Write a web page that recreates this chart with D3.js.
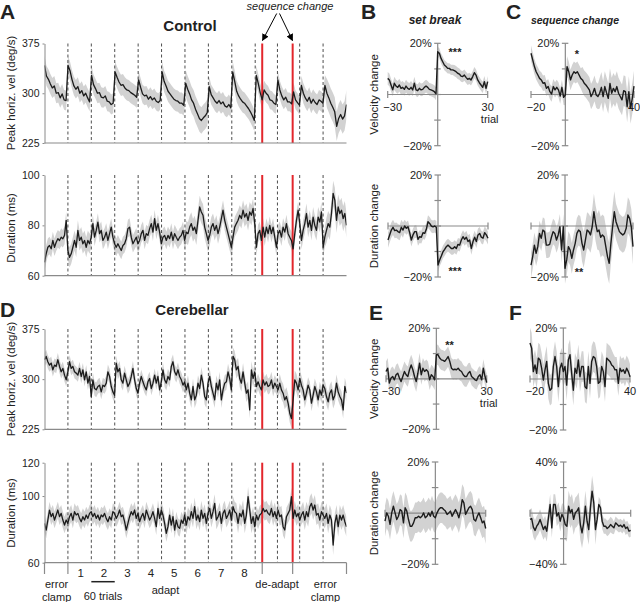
<!DOCTYPE html>
<html><head><meta charset="utf-8">
<script src="https://cdn.jsdelivr.net/npm/d3@7"></script>
<style>
body{margin:0;background:#fff}
svg{display:block}
text{font-family:"Liberation Sans",Arial,sans-serif;fill:#222}
</style>
</head><body>
<svg id="c" width="640" height="602"></svg>
<script>
// ---------------- DATA ----------------
const T_MAX = 774; // trials in full session
const blockBreaks = [60,120,180,240,300,360,420,480,540,597,654,714];
const seqChanges = [558,636];
const blockNumbers = ["1","2","3","4","5","6","7","8"];
const velTicks = [225,300,375];
const ctrlDurTicks = [60,80,100];
const cereDurTicks = [60,100,120];

// Control: peak horizontal velocity (deg/s)
const ctrlVel = [342,326,321,314,308,311,300,301,293,299,290,289,
342,334,321,311,306,310,300,304,296,300,293,287,
327,313,307,300,301,294,293,296,288,287,283,285,
332,324,317,312,313,308,305,304,301,299,297,294,
320,309,299,296,297,291,295,290,293,288,286,289,
332,318,311,303,299,295,291,289,288,285,285,282,
315,306,299,290,285,276,269,262,259,263,266,271,
310,298,293,288,285,289,284,287,281,279,283,278,
332,318,303,296,291,287,285,281,277,272,266,259,
327,315,301,290,305,300,297,290,289,285,283,
320,305,296,290,294,287,287,284,302,290,286,282,
312,300,293,288,294,285,291,286,283,290,288,285,
312,300,293,285,279,272,250,262,268,261,266,283];
const ctrlVelSem = [15,14,15,16,14,16,20,15,16,14,14,15,22];

// Control: duration (ms)
const ctrlDur = [65.3,68.7,71.3,72,70.7,74,71.3,73.3,74.7,74,75.3,74.7,76,82,70,67.3,68.7,71.3,74,71.3,78,74,75.3,72.7,74,71.3,74,72.7,75.3,80.7,75.3,78,81.3,76.7,78,74,75.3,77.3,74,76.7,79.3,75.3,72.7,71.3,72.7,71.3,70,72,72.7,74.7,78.7,79.3,75.3,72.7,74,75.3,72.7,74,76.7,78,74,76.7,76,78.7,80.7,77.3,82.7,78,80.7,77.3,72.7,75.3,76,74,76,74.7,77.3,74,76.7,75.3,74,75.3,76,78,74,77.3,76.7,79.3,80.7,78,79.3,76.7,82,87.3,85.3,84,79.3,76.7,74,76,79.3,80.7,78,80,76.7,79.3,82.7,86,82,79.3,76.7,74,71.3,75.3,79.3,80.7,82,84,82.7,86,83.3,84.7,82,85.3,84,86.7,80.7,71.3,76.7,78,74,79.3,75.3,79.3,76.7,80,76.7,79.3,75.3,71.3,76.7,78,75.3,79.3,77.3,80.7,76.7,75.3,74,70.7,76.7,82,86,80.7,74,78,80.7,84.7,79.3,82,78,83.3,80,78,83.3,81.3,85.3,71.3,75.3,78,80.7,79.3,84.7,92.7,90,82,87.3,84.7,86,82.7,84.7,80];
const ctrlDurSem = [3.5,4,3.5,3.5,3.5,3.5,4.5,4,4,3.5,3.5,4,5];

// Cerebellar: peak horizontal velocity (deg/s)
const cereVel = [329,334,326,321,324,314,321,319,329,319,311,316,306,299,311,326,316,319,311,309,306,316,304,314,299,311,294,304,274,299,286,284,289,291,281,291,289,294,311,304,289,281,276,324,311,316,299,294,309,299,289,294,304,316,299,286,279,294,304,296,289,284,296,301,286,294,306,294,304,284,296,314,299,294,304,299,319,326,311,306,314,304,299,291,296,284,294,279,269,289,269,276,294,286,306,294,274,269,294,304,289,279,269,294,284,299,269,284,294,296,311,301,284,334,329,314,319,301,294,311,294,279,284,254,314,301,311,289,296,289,284,299,291,296,289,291,299,286,294,289,284,294,284,279,269,274,264,249,241,269,299,294,284,301,291,284,269,279,291,284,264,276,289,281,269,284,276,291,286,274,266,279,284,269,276,294,281,274,269,254,289,279];
const cereVelSem = [10,10,11,11,10,11,12,12,13,12,14,12,13];

// Cerebellar: duration (ms)
const cereDur = [83.6,79.6,85.6,91.6,87.6,89.6,85.6,88.6,91.6,87.6,89.6,85.6,82.6,85.6,83.6,87.6,89.6,85.6,90.6,88.6,89.6,86.6,84.6,87.6,85.6,88.6,86.6,89.6,90.6,87.6,89.6,86.6,88.6,85.6,88.6,87.6,89.6,86.6,84.6,87.6,85.6,90.6,89.6,86.6,88.6,91.6,87.6,88.6,84.6,79.6,83.6,87.6,90.6,88.6,91.6,86.6,89.6,84.6,87.6,89.6,85.6,91.6,88.6,85.6,87.6,90.6,86.6,81.6,92.6,86.6,91.6,88.6,83.6,77.6,81.6,88.6,82.6,87.6,79.6,85.6,81.6,80.6,85.6,83.6,88.6,82.6,87.6,85.6,90.6,86.6,93.6,85.6,88.6,84.6,91.6,86.6,89.6,83.6,89.6,92.6,86.6,90.6,95.6,85.6,87.6,90.6,83.6,89.6,91.6,86.6,88.6,91.6,85.6,93.6,90.6,89.6,83.6,89.6,87.6,91.6,83.6,88.6,99.6,91.6,83.6,87.6,81.6,88.6,85.6,88.6,89.6,92.6,90.6,91.6,89.6,88.6,92.6,87.6,90.6,86.6,91.6,87.6,88.6,81.6,79.6,87.6,89.6,91.6,99.6,86.6,91.6,87.6,89.6,85.6,88.6,90.6,85.6,90.6,87.6,93.6,95.6,91.6,94.6,88.6,89.6,85.6,90.6,88.6,86.6,89.6,83.6,88.6,85.6,70.6,83.6,88.6,81.6,88.6,85.6,88.6,84.6,81.6];
const cereDurSem = [5,5,5,5,5,5,5.5,5.5,6,5.5,5.5,6,6];

// Event-aligned changes (%), set break: trials -30..30; sequence change: trials -20..40
const ctrlBreakVel = [6.3,5.7,3.7,1.8,4.4,3.3,2.8,3.7,2.4,2.8,2.0,3.3,2.4,2.0,2.8,1.8,4.4,1.8,1.5,2.4,1.8,2.0,2.8,3.3,2.8,2.0,1.8,1.5,1.1,0.3,
16.7,16.1,14.1,12.8,11.5,10.9,10.2,10.2,9.6,9.6,9.3,8.9,8.3,8.0,7.2,7.0,7.6,6.7,5.9,6.3,5.7,7.0,8.5,7.6,5.7,4.6,3.7,2.8,5.0,2.4,5.0];
const ctrlBreakVelSem = [2.5,2.5,2.5,2,2.2,2.2];
const ctrlBreakDur = [-5.5,-3.5,-1.6,-0.5,-1.8,-1.6,-2.2,-2.6,-0.5,-1.6,0,-0.9,-0.3,-2.6,-5.5,-3.5,-2.2,-2.2,-5.2,-4.2,-4.4,-2.6,-2.9,-1.3,1.7,1.0,0,-0.3,0,-0.5,
-15.3,-13.3,-11.8,-10.1,-9.2,-8.1,-7.5,-8.1,-8.8,-8.8,-8.1,-8.8,-7.2,-7.5,-5.5,-4.2,-5.2,-4.4,-6.1,-5.5,-8.8,-6.1,-4.4,-6.1,-3.5,-2.9,-4.4,-4.8,-2.6,-3.5,-4.8];
const ctrlBreakDurSem = [3,2.5,2.5,2.5,2.5,2.5];
const ctrlSeqVel = [16.1,13.5,10.9,8.9,7.6,6.3,5.7,4.4,4.6,2.4,3.1,1.1,0.2,3.1,1.8,2.8,1.8,-0.6,2.8,-1.1,
-0.2,10.9,8.9,5.7,7.6,8.9,8.3,8.9,7.6,6.3,5.7,4.4,3.7,2.8,1.8,-0.8,0.5,2.4,-0.2,-0.8,0.5,2.8,-0.8,3.1,0.7,-1.5,4.3,0.5,2.4,1.1,3.1,0.5,-0.8,-2.1,1.5,1.1,-4.8,1.1,-5.4,-1.5,3.3];
const ctrlSeqVelSem = [3,3,4,5,6,6];
const ctrlSeqDur = [-15.3,-12,-7.5,-10.7,-8.1,-2.9,-4.8,-1.6,-2.2,-7.5,-7.5,-7.2,-4.4,-2.2,-2.9,-5.5,-3.5,-0.3,-9.4,-0.3,
-16.6,-13.3,-8.1,-9.4,-12.7,-9.4,-6.8,-2.9,-1.6,-2.2,-6.8,-9.4,-5.5,-1.6,-2.2,-3.5,-0.3,5.6,1.0,-2.2,-1.6,-4.4,-3.5,-4.2,-8.1,-12,-14.6,-6.8,-0.3,5.6,1.7,-0.3,-2.2,-2.9,-3.5,-2.9,-0.9,4.3,3.0,-0.3,-8.1];
const ctrlSeqDurSem = [5,5,6,7,8,7];
const cereBreakVel = [2.9,4.2,-1.7,0.3,0.9,-0.4,1.6,2.2,0.3,-1.1,0.9,2.9,1.6,0.9,3.6,5.5,3.6,0.9,-1.1,2.2,6.2,1.6,4.2,2.9,3.6,2.9,-0.4,1.6,0.9,-0.4,
9.5,9.5,8.2,7.5,7.3,6.9,7.8,8.8,6.9,4.2,3.6,3.8,3.6,4.2,3.3,2.9,1.6,0.9,0.9,2.2,2.9,0.9,0.3,-0.4,-0.7,0.9,1.6,-0.4,4.2,0.9,-1.5];
const cereBreakVelSem = [4,4,4,4,4,3.5];
const cereBreakDur = [-3.1,0.1,-1.2,-4.4,0.1,2.7,0.1,-2.5,-1.2,1.4,0.8,-3.8,2.1,0.8,-2.5,-5.1,-5.1,-3.8,-1.8,-1.8,-1.2,-1.8,-1.2,0.1,-1.8,-1.2,0.1,-1.2,0.8,-1.2,
-1.8,0.1,1.4,2.1,2.1,1.4,0.8,-0.5,0.1,0.8,-1.2,0.1,1.4,0.1,-1.8,0.8,5.3,4.0,-0.5,0.8,2.1,2.7,1.4,-2.5,-3.1,-1.2,0.1,-1.8,-3.8,-3.1,-6.0];
const cereBreakDurSem = [6,6,6,6,6,6];
const cereSeqVel = [14.1,12.1,2.9,5.5,2.2,8.2,7.5,4.2,-0.4,3.6,6.9,-1.7,-4.4,-3.7,4.9,8.8,4.9,-3.0,4.2,6.2,
2.9,4.9,-2.4,7.5,9.5,2.2,-4.4,4.2,2.2,7.5,0.9,4.9,4.9,-3.0,-3.7,4.9,-1.7,6.9,8.8,8.2,4.9,-1.7,-1.1,4.9,2.9,-3.0,8.2,7.5,6.9,5.5,4.9,3.6,3.6,-1.7,4.2,2.9,3.6,2.2,4.2,2.9,0.9];
const cereSeqVelSem = [6,6,6,6,6,5];
const cereSeqDur = [-4.9,-4.2,-10.9,-13.5,-10.2,-8.3,-4.9,-8.9,-12.8,-10.2,-14.1,-3.6,6.8,-11.5,6.8,6.8,-2.3,0.3,-6.3,-1.0,
-3.6,-8.9,-10.2,5.5,0.3,2.9,-4.9,0.3,1.6,4.2,-8.9,-15.4,-7.6,5.5,-6.3,-12.8,4.2,17.2,8.1,-12.8,-4.9,6.8,4.2,-6.3,-10.2,-10.2,-12.0,-10.9,-8.9,-10.2,-11.5,-7.6,-8.9,-10.2,-9.4,-10.9,-8.9,-12.0,-10.9,-14.1,-13.5];
const cereSeqDurSem = [8,8,12,12,6,5];

// ---------------- DRAWING ----------------
const svg = d3.select("#c");
const BAND = "#d2d2d2", LINE = "#1c1c1c", AXIS = "#8a8a8a", RED = "#e3262c";
const X0 = 44.5, X1 = 346.5;
const xLong = d3.scaleLinear().domain([0, T_MAX]).range([X0, X1]);
let clipN = 0;

function longPanel(cfg) {
  const y = d3.scaleLinear().domain(cfg.dom).range(cfg.range);
  const g = svg.append("g");
  const id = "clip" + (clipN++);
  svg.append("clipPath").attr("id", id).append("rect")
    .attr("x", X0).attr("y", cfg.range[1]).attr("width", X1 - X0).attr("height", cfg.range[0] - cfg.range[1]);
  const n = cfg.values.length;
  const pts = cfg.values.map((v, i) => ({t: i * T_MAX / (n - 1), v}));
  const hw = t => cfg.sem[Math.min(cfg.sem.length - 1, Math.floor(t / 60))];
  g.append("path").datum(pts).attr("clip-path", `url(#${id})`).attr("fill", BAND)
    .attr("d", d3.area().x(d => xLong(d.t)).y0(d => y(d.v - hw(d.t))).y1(d => y(d.v + hw(d.t))));
  g.selectAll(null).data(blockBreaks).join("line")
    .attr("x1", d => xLong(d)).attr("x2", d => xLong(d))
    .attr("y1", cfg.range[1]).attr("y2", cfg.range[0])
    .attr("stroke", "#3a3a3a").attr("stroke-width", 0.9).attr("stroke-dasharray", "3,2.5");
  g.selectAll(null).data(seqChanges).join("line")
    .attr("x1", d => xLong(d)).attr("x2", d => xLong(d))
    .attr("y1", cfg.range[1]).attr("y2", cfg.range[0])
    .attr("stroke", RED).attr("stroke-width", 2);
  g.append("path").datum(pts).attr("clip-path", `url(#${id})`).attr("fill", "none")
    .attr("stroke", LINE).attr("stroke-width", 1.3).attr("stroke-linejoin", "round")
    .attr("d", d3.line().x(d => xLong(d.t)).y(d => y(d.v)));
  const ax = g.append("g").attr("transform", `translate(${X0},0)`)
    .call(d3.axisLeft(y).tickValues(cfg.ticks).tickSize(2).tickSizeOuter(0).tickPadding(3));
  ax.select(".domain").attr("stroke", AXIS);
  ax.selectAll(".tick line").attr("stroke", AXIS);
  ax.selectAll(".tick text").attr("font-size", 10.5).attr("fill", "#222")
    .attr("font-family", "Liberation Sans, Arial, sans-serif");
  g.append("line").attr("x1", X0).attr("x2", X1).attr("y1", cfg.range[0]).attr("y2", cfg.range[0])
    .attr("stroke", AXIS).attr("stroke-width", 1.2);
  g.append("text").attr("transform", `translate(11,${cfg.titleY}) rotate(-90)`)
    .attr("text-anchor", "middle").attr("dominant-baseline", "central").attr("font-size", 11.5)
    .text(cfg.title);
  return y;
}

function shortPanel(cfg) {
  const x = d3.scaleLinear().domain([cfg.tmin, cfg.tmax]).range(cfg.xr);
  const y = d3.scaleLinear().domain([-cfg.ymax, cfg.ymax]).range(cfg.yr);
  const g = svg.append("g");
  const pts = cfg.values.map((v, i) => ({t: cfg.tmin + i, v}));
  const hw = t => cfg.sem[Math.min(cfg.sem.length - 1, Math.floor((t - cfg.tmin) / 10))];
  g.append("path").datum(pts).attr("fill", BAND)
    .attr("d", d3.area().x(d => x(d.t)).y0(d => y(d.v - hw(d.t))).y1(d => y(d.v + hw(d.t))));
  const x0 = x(0), y0 = y(0);
  g.append("line").attr("x1", x0).attr("x2", x0).attr("y1", y(cfg.ymax)).attr("y2", y(-cfg.ymax))
    .attr("stroke", AXIS).attr("stroke-width", 1.2);
  const tks = [-cfg.ymax, -cfg.ymax / 2, 0, cfg.ymax / 2, cfg.ymax];
  g.selectAll(null).data(tks).join("line")
    .attr("x1", x0 - 3.5).attr("x2", x0 + 3).attr("y1", d => y(d)).attr("y2", d => y(d))
    .attr("stroke", AXIS).attr("stroke-width", 1.2);
  g.append("line").attr("x1", x(cfg.tmin)).attr("x2", x(cfg.tmax)).attr("y1", y0).attr("y2", y0)
    .attr("stroke", AXIS).attr("stroke-width", 1.2);
  g.selectAll(null).data([cfg.tmin, cfg.tmax]).join("line")
    .attr("x1", d => x(d)).attr("x2", d => x(d)).attr("y1", y0 - 3.5).attr("y2", y0 + 3.5)
    .attr("stroke", AXIS).attr("stroke-width", 1.2);
  g.selectAll(null).data([cfg.ymax, -cfg.ymax]).join("text")
    .attr("x", x0 - 6).attr("y", d => y(d)).attr("text-anchor", "end").attr("dominant-baseline", "central")
    .attr("font-size", 11).text(d => (d < 0 ? "\u2212" : "") + Math.abs(d) + "%");
  if (cfg.xlabels) {
    g.append("text").attr("x", x(cfg.tmin) + 5).attr("y", y0 + 16).attr("text-anchor", "middle")
      .attr("font-size", 11).text("\u2212" + Math.abs(cfg.tmin));
    g.append("text").attr("x", x(cfg.tmax)).attr("y", y0 + 16).attr("text-anchor", "middle")
      .attr("font-size", 11).text(cfg.tmax);
    if (cfg.trial) g.append("text").attr("x", x(cfg.tmax) + 2).attr("y", y0 + 28).attr("text-anchor", "middle")
      .attr("font-size", 11).text("trial");
  }
  g.append("path").datum(pts).attr("fill", "none").attr("stroke", LINE).attr("stroke-width", 1.4)
    .attr("stroke-linejoin", "round")
    .attr("d", d3.line().x(d => x(d.t)).y(d => y(d.v)));
  if (cfg.stars) g.append("text").attr("x", cfg.stars[0]).attr("y", cfg.stars[1]).attr("text-anchor", "middle")
    .attr("font-size", 11).attr("font-weight", "bold").text(cfg.stars[2]);
  if (cfg.title) g.append("text").attr("transform", `translate(374,${(y(cfg.ymax) + y(-cfg.ymax)) / 2}) rotate(-90)`)
    .attr("text-anchor", "middle").attr("dominant-baseline", "central").attr("font-size", 11.5).text(cfg.title);
}

// long panels
longPanel({values: ctrlVel, sem: ctrlVelSem, dom: [225, 375], range: [143, 43.5], ticks: velTicks, title: "Peak horiz. vel (deg/s)", titleY: 93});
longPanel({values: ctrlDur, sem: ctrlDurSem, dom: [60, 100], range: [275.7, 175], ticks: ctrlDurTicks, title: "Duration (ms)", titleY: 228});
longPanel({values: cereVel, sem: cereVelSem, dom: [225, 375], range: [429.3, 329], ticks: velTicks, title: "Peak horiz. vel (deg/s)", titleY: 379});
longPanel({values: cereDur, sem: cereDurSem, dom: [60, 120], range: [562.7, 462.7], ticks: cereDurTicks, title: "Duration (ms)", titleY: 513});

// short panels
shortPanel({values: ctrlBreakVel, sem: ctrlBreakVelSem, tmin: -30, tmax: 30, xr: [387.7, 487.7], yr: [145.7, 43.3], ymax: 20, xlabels: true, trial: true, stars: [455, 56, "***"], title: "Velocity change"});
shortPanel({values: ctrlBreakDur, sem: ctrlBreakDurSem, tmin: -30, tmax: 30, xr: [388, 488], yr: [277, 175], ymax: 20, stars: [455, 275, "***"], title: "Duration change"});
shortPanel({values: ctrlSeqVel, sem: ctrlSeqVelSem, tmin: -20, tmax: 40, xr: [531, 634], yr: [145.7, 43.3], ymax: 20, xlabels: true, stars: [577, 58, "*"]});
shortPanel({values: ctrlSeqDur, sem: ctrlSeqDurSem, tmin: -20, tmax: 40, xr: [531, 633], yr: [277, 175], ymax: 20, stars: [579, 276, "**"]});
shortPanel({values: cereBreakVel, sem: cereBreakVelSem, tmin: -30, tmax: 30, xr: [386, 486.7], yr: [429.3, 328.3], ymax: 20, xlabels: true, trial: true, stars: [449.5, 349, "**"], title: "Velocity change"});
shortPanel({values: cereSeqVel, sem: cereSeqVelSem, tmin: -20, tmax: 40, xr: [530, 630], yr: [430, 328], ymax: 20, xlabels: true});
shortPanel({values: cereBreakDur, sem: cereBreakDurSem, tmin: -30, tmax: 30, xr: [385, 485.7], yr: [564.3, 462], ymax: 20, title: "Duration change"});
shortPanel({values: cereSeqDur, sem: cereSeqDurSem, tmin: -20, tmax: 40, xr: [530, 630.7], yr: [564.3, 462], ymax: 40});

// bottom annotations for panel D
const annot = svg.append("g").attr("font-size", 11);
annot.selectAll(null).data([0, 60, seqChanges[0], seqChanges[1], T_MAX]).join("line")
  .attr("x1", d => xLong(d)).attr("x2", d => xLong(d)).attr("y1", 562.7).attr("y2", 574)
  .attr("stroke", AXIS).attr("stroke-width", 1.2);
annot.selectAll(null).data(blockNumbers).join("text")
  .attr("x", (d, i) => xLong(60 * (i + 1) + 30) + 1).attr("y", 577).attr("text-anchor", "middle")
  .attr("font-size", 11.5).text(d => d);
const bottomLabels = [
  {text: "error", t: 31, y: 588}, {text: "clamp", t: 31, y: 600.5},
  {text: "60 trials", t: 150, y: 600}, {text: "adapt", t: 310, y: 594},
  {text: "de-adapt", t: 596, y: 588},
  {text: "error", t: 720, y: 588}, {text: "clamp", t: 720, y: 600.5}
];
annot.selectAll(null).data(bottomLabels).join("text")
  .attr("x", d => xLong(d.t)).attr("y", d => d.y).attr("text-anchor", "middle").text(d => d.text);
annot.append("line").attr("x1", xLong(120)).attr("x2", xLong(180)).attr("y1", 581.7).attr("y2", 581.7)
  .attr("stroke", "#222").attr("stroke-width", 1.5);

// titles & letters
const letters = [["A", 0, 19], ["B", 361, 19], ["C", 506, 19], ["D", 0, 317], ["E", 369, 320], ["F", 509, 320]];
svg.selectAll(null).data(letters).join("text")
  .attr("x", d => d[1]).attr("y", d => d[2]).attr("font-size", 21).attr("font-weight", "bold").attr("fill", "#000")
  .text(d => d[0]);
svg.append("text").attr("x", 190).attr("y", 31).attr("text-anchor", "middle").attr("font-size", 15)
  .attr("font-weight", "bold").attr("fill", "#000").text("Control");
svg.append("text").attr("x", 192).attr("y", 315).attr("text-anchor", "middle").attr("font-size", 15)
  .attr("font-weight", "bold").attr("fill", "#000").text("Cerebellar");
svg.append("text").attr("x", 435).attr("y", 24).attr("text-anchor", "middle").attr("font-size", 12)
  .attr("font-weight", "bold").attr("font-style", "italic").attr("fill", "#000").text("set break");
svg.append("text").attr("x", 575).attr("y", 24).attr("text-anchor", "middle").attr("font-size", 10.5)
  .attr("font-weight", "bold").attr("font-style", "italic").attr("fill", "#000").text("sequence change");
svg.append("text").attr("x", 290).attr("y", 10).attr("text-anchor", "middle").attr("font-size", 11)
  .attr("font-style", "italic").attr("fill", "#000").text("sequence change");

// arrows
const defs = svg.append("defs");
defs.append("marker").attr("id", "ah").attr("viewBox", "0 0 10 10").attr("refX", 9).attr("refY", 5)
  .attr("markerWidth", 7).attr("markerHeight", 7).attr("orient", "auto")
  .append("path").attr("d", "M0,0L10,5L0,10z").attr("fill", "#000");
const arrows = [[276.7, 13.5, 262.5, 40.5], [279.5, 13.5, 292.5, 40.5]];
svg.selectAll(null).data(arrows).join("line")
  .attr("x1", d => d[0]).attr("y1", d => d[1]).attr("x2", d => d[2]).attr("y2", d => d[3])
  .attr("stroke", "#000").attr("stroke-width", 1).attr("marker-end", "url(#ah)");
</script>
</body></html>
